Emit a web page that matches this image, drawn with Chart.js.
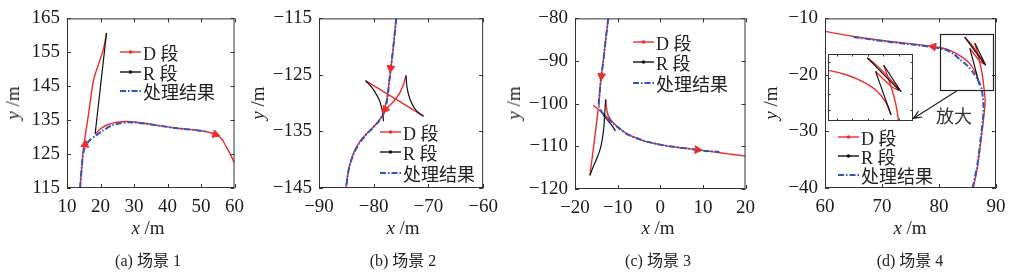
<!DOCTYPE html>
<html>
<head>
<meta charset="utf-8">
<script src="https://cdn.jsdelivr.net/npm/chart.js@4.4.1/dist/chart.umd.min.js"></script>
<style>
  body { margin: 0; background: #fff; width: 1017px; height: 278px; position: relative; overflow: hidden;
         font-family: "Liberation Serif", "Noto Sans CJK SC", serif; color: #222; }
  canvas { position: absolute; top: 0; }
  .lbl { position: absolute; font-size: 19px; white-space: nowrap; transform: translate(-50%, -50%); }
  .ylbl { transform: translate(-50%, -50%) rotate(-90deg); }
  .cap { position: absolute; font-size: 16px; white-space: nowrap; transform: translate(-50%, -50%); }
  .row { position: absolute; height: 20px; display: flex; align-items: center; font-size: 18px; white-space: nowrap; }
  .row svg { margin-right: 2px; }
  .zoomtxt { position: absolute; font-size: 18px; color: #333; transform: translate(-50%, -50%); font-family: "Noto Sans CJK SC"; }
</style>
</head>
<body>
<canvas id="ca" width="252" height="220" style="left:0px"></canvas>
<canvas id="cb" width="256" height="220" style="left:250px"></canvas>
<canvas id="cc" width="258" height="220" style="left:505px"></canvas>
<canvas id="cd" width="257" height="220" style="left:760px"></canvas>
<canvas id="ci" width="85" height="67" style="left:828px;top:54px;background:#fff"></canvas>
<div id="labels"></div>
<script>
// ---- panel (a) 场景 1 ----
const aXTicks = [10, 20, 30, 40, 50, 60];
const aYTicks = [115, 125, 135, 145, 155, 165];
const aD1 = [[13.9,115],[14.4,121],[14.9,126.6],[16.4,136.6],[17.9,146.7],[19.4,151.5],[20.9,156],[21.8,160.7]];
const aR1 = [[21.8,160.7],[18.4,131]];
const aD2 = [[18.4,131],[20.2,132.6],[22.5,133.8],[25,134.4],[28,134.6],[33,134.1],[38,133.3],[43,132.6],[48,132.1],[52,131.5],[54.9,130.5],[56.3,129.3],[57.3,127.6],[58.6,125.3],[60,122.3]];
const aBlue = [[13.9,115],[14.4,121],[14.9,125.6],[15.9,128],[17,129.3],[18.4,130.3],[20.5,131.8],[23.3,133.4],[26,134.1],[28.2,134.4],[33.2,134],[38,133.3],[43,132.6],[48,132.1],[51.5,131.7]];
const aArrows = [[15.4,127.8],[54.3,130.8]];
const aArrowRot = [8, 108];

// ---- panel (b) 场景 2 ----
const bXTicks = [-90, -80, -70, -60];
const bYTicks = [-145, -135, -125, -115];
const bD1 = [[-75.9,-115],[-76.3,-119],[-76.8,-123.3],[-77.2,-126.5],[-77.6,-129.3],[-78.1,-131.5]];
const bD2 = [[-81.5,-126],[-70.9,-132.3]];
const bD3 = [[-74.1,-125.1],[-74.6,-126.8],[-75.3,-128.3],[-76.3,-129.6],[-77.3,-130.6],[-78.1,-131.4]];
const bD4 = [[-78.2,-131.9],[-79.4,-133.5],[-81.4,-135.5],[-82.7,-137],[-83.6,-138.6],[-84.4,-141],[-84.8,-143],[-85.1,-145]];
const bR1 = [[-81.5,-126],[-80.6,-126.9],[-79.8,-128],[-79,-129.4],[-78.5,-131],[-78.3,-132.2],[-78.2,-133.2]];
const bR2 = [[-74.1,-125.1],[-73.9,-127.3],[-73.4,-129.2],[-72.6,-130.8],[-71.8,-131.7],[-70.9,-132.3]];
const bBlue = [[-75.9,-115],[-76.3,-119],[-76.8,-123.3],[-77.2,-126.5],[-77.5,-129.2],[-78.2,-131.9],[-79.4,-133.6],[-81.5,-135.7],[-82.7,-137.2],[-83.5,-138.6],[-84.4,-141],[-84.8,-143],[-85,-145]];
const bArrows = [[-76.9,-123.8],[-77.9,-131.1]];
const bArrowRot = [187, 215];

// ---- panel (c) 场景 3 ----
const cXTicks = [-20, -10, 0, 10, 20];
const cYTicks = [-120, -110, -100, -90, -80];
const cD1 = [[-12.2,-80],[-12.8,-85],[-13.4,-90.3],[-13.9,-94],[-14.2,-97.3],[-14.4,-100.6]];
const cD2 = [[-16.5,-116.8],[-15.5,-109],[-14.6,-101.5]];
const cD3 = [[-15.7,-100.4],[-14.3,-101.5],[-13.2,-102.5],[-12,-103.6]];
const cD4 = [[-12.8,-99],[-12.6,-101],[-12.2,-102.8],[-11.2,-104.3],[-9.5,-105.8],[-7.9,-107],[-5.5,-108.1],[-3.2,-108.9],[0,-109.6],[2.2,-110],[5.5,-110.4],[8.5,-110.8],[11,-111.1],[14,-111.5],[17,-111.9],[20,-112.3]];
const cR1 = [[-16.5,-116.8],[-15.6,-114.5],[-14.9,-112.9],[-14.2,-111],[-13.8,-109.4],[-13.4,-107],[-13.2,-105.1],[-13,-102],[-12.8,-99]];
const cR2 = [[-13.4,-102.6],[-11.8,-104.5],[-10.5,-106.4]];
const cBlue = [[-12.2,-80],[-12.8,-85],[-13.4,-90.3],[-13.9,-94],[-14.2,-97.3],[-14.4,-100.6],[-13.4,-102.4],[-12.2,-103.6],[-11,-104.7],[-9.5,-105.9],[-7.9,-107.1],[-5.5,-108.1],[-3.2,-108.9],[0,-109.6],[2.2,-110],[5.5,-110.4],[8.5,-110.8],[11,-111.1],[13.9,-111.3]];
const cArrows = [[-13.8,-93.5],[8.7,-110.8]];
const cArrowRot = [186, 95];

// ---- panel (d) 场景 4 ----
const dXTicks = [60, 70, 80, 90];
const dYTicks = [-40, -30, -20, -10];
const dD1 = [[86,-40],[86.7,-36.6],[87.4,-31.3],[87.9,-27],[88.1,-24.5],[87.9,-22.4],[87.6,-20],[87.2,-18],[86.8,-16.3],[86.3,-14.4]];
const dR1 = [[86.3,-14.4],[88.2,-18.3]];
const dD2 = [[88.2,-18.3],[87.5,-17.2],[86.4,-15.6],[85.5,-14.4],[84.5,-13.3]];
const dR2 = [[84.5,-13.3],[88,-18.1]];
const dD3 = [[88,-18.1],[87.2,-17.6],[86.3,-16.5],[85.4,-15.3]];
const dR3 = [[85.4,-15.3],[87.1,-21.7]];
const dD4 = [[87.1,-21.7],[86.5,-19.8],[85.4,-18],[84,-16.8],[82.2,-15.8],[80.4,-15.2],[79,-15],[76,-14.6],[70.8,-14],[65,-13.2],[60,-12.3]];
const dBlue = [[65,-13.3],[70.8,-14.1],[76,-14.7],[79,-15.1],[81.3,-15.6],[82.6,-16.3],[83.7,-17.3],[85,-18.4],[86,-19.6],[86.9,-21],[87.5,-22.6],[87.8,-25.5],[87.7,-28],[87.3,-31.3],[87,-34],[86.6,-36.6],[85.9,-40]];
const dArrows = [[79,-15]];
const dArrowRot = [280];
const dZoomBox = [80.2, 89.5, -22.6, -12.75];   // x0, x1, y0, y1 of the 放大 region
const dPointer = [[83.1,-22.86],[75.5,-27.7]];
const iXTicks = [81.15, 82.85, 84.55, 86.25, 87.95];
const iYTicks = [-13.9, -16.25, -18.6, -20.95];

const RED = '#ee2b2b', BLACK = '#111', BLUE = '#2b55c4', AXIS = '#333';
const TICKFONT = { family: '"Liberation Serif", "Times New Roman", serif', size: 19 };

const pts = arr => arr.map(p => ({ x: p[0], y: p[1] }));
const fmt = v => (v < 0 ? '\u2212' : '') + Math.abs(v);

function line(arr, kind) {
  const base = { data: pts(arr), showLine: true, pointRadius: 0, fill: false, tension: 0.25 };
  if (kind === 'D') return { ...base, borderColor: RED, borderWidth: 1.4, order: 3 };
  if (kind === 'R') return { ...base, borderColor: BLACK, borderWidth: 1.2, order: 2 };
  return { ...base, borderColor: BLUE, borderWidth: 2, borderDash: [6, 2, 1.5, 2], order: 1 };
}
function arrows(arr, rot) {
  return { data: pts(arr), showLine: false, pointStyle: 'triangle', pointRotation: rot,
           pointRadius: 4.5, pointBackgroundColor: RED, pointBorderColor: RED, pointBorderWidth: 1, order: 0 };
}

// box + inward ticks on all four sides
function frame(xt, yt, tl, extra) {
  return {
    id: 'frame',
    afterDraw(c) {
      const { ctx, chartArea: a, scales: { x, y } } = c;
      ctx.save();
      ctx.strokeStyle = AXIS; ctx.lineWidth = 1;
      ctx.strokeRect(a.left + 0.5, a.top + 0.5, a.right - a.left - 1, a.bottom - a.top - 1);
      ctx.beginPath();
      xt.forEach(v => {
        const px = Math.round(x.getPixelForValue(v)) + 0.5;
        ctx.moveTo(px, a.bottom); ctx.lineTo(px, a.bottom - tl);
        ctx.moveTo(px, a.top); ctx.lineTo(px, a.top + tl);
      });
      yt.forEach(v => {
        const py = Math.round(y.getPixelForValue(v)) + 0.5;
        ctx.moveTo(a.left, py); ctx.lineTo(a.left + tl, py);
        ctx.moveTo(a.right, py); ctx.lineTo(a.right - tl, py);
      });
      ctx.stroke();
      if (extra) extra(c);
      ctx.restore();
    }
  };
}

function panel(id, p) {
  const axis = (min, max, ticks, isX) => ({
    type: 'linear', min, max,
    grid: { display: false, drawTicks: false }, border: { display: false },
    ticks: { font: TICKFONT, color: '#1a1a1a', padding: isX ? 8 : 7, autoSkip: false, maxRotation: 0, callback: fmt },
    afterBuildTicks: s => { s.ticks = ticks.map(v => ({ value: v })); },
    afterFit: s => { if (isX) s.height = p.xh; else s.width = p.yw; }
  });
  return new Chart(document.getElementById(id), {
    type: 'scatter',
    data: { datasets: p.datasets },
    options: {
      responsive: false, animation: false, events: [],
      layout: { padding: { top: p.top, right: p.right, left: 0, bottom: 0 } },
      plugins: { legend: { display: false }, tooltip: { enabled: false } },
      scales: { x: axis(p.xr[0], p.xr[1], p.xt, true), y: axis(p.yr[0], p.yr[1], p.yt, false) }
    },
    plugins: [frame(p.xt, p.yt, 4, p.extra)]
  });
}

panel('ca', {
  xr: [10, 60], yr: [115, 165], xt: aXTicks, yt: aYTicks, yw: 67, xh: 32, top: 18, right: 16,
  datasets: [line(aD1, 'D'), line(aD2, 'D'), line(aR1, 'R'), line(aBlue, 'B'), arrows(aArrows, aArrowRot)]
});
panel('cb', {
  xr: [-90, -60], yr: [-145, -115], xt: bXTicks, yt: bYTicks, yw: 69, xh: 32, top: 18, right: 17,
  datasets: [line(bD1, 'D'), line(bD2, 'D'), line(bD3, 'D'), line(bD4, 'D'), line(bR1, 'R'), line(bR2, 'R'),
             line(bBlue, 'B'), arrows(bArrows, bArrowRot)]
});
panel('cc', {
  xr: [-20, 20], yr: [-120, -80], xt: cXTicks, yt: cYTicks, yw: 70, xh: 31, top: 18, right: 17,
  datasets: [line(cD1, 'D'), line(cD2, 'D'), line(cD3, 'D'), line(cD4, 'D'), line(cR1, 'R'), line(cR2, 'R'),
             line(cBlue, 'B'), arrows(cArrows, cArrowRot)]
});

const dSegsD = [dD1, dD2, dD3, dD4], dSegsR = [dR1, dR2, dR3];
panel('cd', {
  xr: [60, 90], yr: [-40, -10], xt: dXTicks, yt: dYTicks, yw: 65, xh: 32, top: 17, right: 21,
  datasets: [...dSegsD.map(s => line(s, 'D')), ...dSegsR.map(s => line(s, 'R')), line(dBlue, 'B'), arrows(dArrows, dArrowRot)],
  extra: c => {
    const { ctx, scales: { x, y } } = c;
    const x0 = x.getPixelForValue(dZoomBox[0]), x1 = x.getPixelForValue(dZoomBox[1]);
    const y0 = y.getPixelForValue(dZoomBox[2]), y1 = y.getPixelForValue(dZoomBox[3]);
    ctx.strokeStyle = '#222'; ctx.lineWidth = 1.2;
    ctx.strokeRect(Math.round(x0) + 0.5, Math.round(y1) + 0.5, Math.round(x1 - x0), Math.round(y0 - y1));
    const ax = x.getPixelForValue(dPointer[0][0]), ay = y.getPixelForValue(dPointer[0][1]);
    const bx = x.getPixelForValue(dPointer[1][0]), by = y.getPixelForValue(dPointer[1][1]);
    ctx.beginPath(); ctx.moveTo(ax, ay); ctx.lineTo(bx, by);
    const ang = Math.atan2(by - ay, bx - ax), h = 9;
    ctx.moveTo(bx - h * Math.cos(ang - 0.4), by - h * Math.sin(ang - 0.4)); ctx.lineTo(bx, by);
    ctx.lineTo(bx - h * Math.cos(ang + 0.4), by - h * Math.sin(ang + 0.4));
    ctx.stroke();
  }
});

// magnified inset
new Chart(document.getElementById('ci'), {
  type: 'scatter',
  data: { datasets: [...dSegsD.map(s => line(s, 'D')), ...dSegsR.map(s => line(s, 'R'))] },
  options: {
    responsive: false, animation: false, events: [],
    layout: { padding: 0 },
    plugins: { legend: { display: false }, tooltip: { enabled: false } },
    scales: {
      x: { type: 'linear', min: dZoomBox[0], max: dZoomBox[1], display: false },
      y: { type: 'linear', min: dZoomBox[2], max: dZoomBox[3], display: false }
    }
  },
  plugins: [frame(iXTicks, iYTicks, 2.5)]
});

// axis titles, captions, legends
const panels = [
  { xl: 148, yl: 13, cap: '(a) 场景 1', legX: 120, legY: [52, 71.5, 91] },
  { xl: 403, yl: 258, cap: '(b) 场景 2', legX: 380, legY: [132, 152, 173] },
  { xl: 658, yl: 514, cap: '(c) 场景 3', legX: 633, legY: [42, 62, 83] },
  { xl: 910, yl: 771, cap: '(d) 场景 4', legX: 838, legY: [137, 155.5, 175] }
];
const legendNames = ['D 段', 'R 段', '处理结果'];
const sample = k => {
  if (k === 2) return `<svg width="21" height="6"><line x1="0" y1="3" x2="21" y2="3" stroke="${BLUE}" stroke-width="2" stroke-dasharray="6 2 1.5 2"/></svg>`;
  const col = k === 0 ? RED : BLACK;
  return `<svg width="21" height="6"><line x1="0" y1="3" x2="21" y2="3" stroke="${col}" stroke-width="1.4"/><circle cx="10.5" cy="3" r="1.8" fill="${col}"/></svg>`;
};
let html = '';
panels.forEach(p => {
  html += `<div class="lbl" style="left:${p.xl}px;top:228px"><i>x</i> /m</div>`;
  html += `<div class="lbl ylbl" style="left:${p.yl}px;top:103px"><i>y</i> /m</div>`;
  html += `<div class="cap" style="left:${p.xl}px;top:259px">${p.cap}</div>`;
  p.legY.forEach((yy, k) => {
    html += `<div class="row" style="left:${p.legX}px;top:${yy - 10}px">${sample(k)}${legendNames[k]}</div>`;
  });
});
html += `<div class="zoomtxt" style="left:954px;top:115px">放大</div>`;
document.getElementById('labels').innerHTML = html;
</script>
</body>
</html>
